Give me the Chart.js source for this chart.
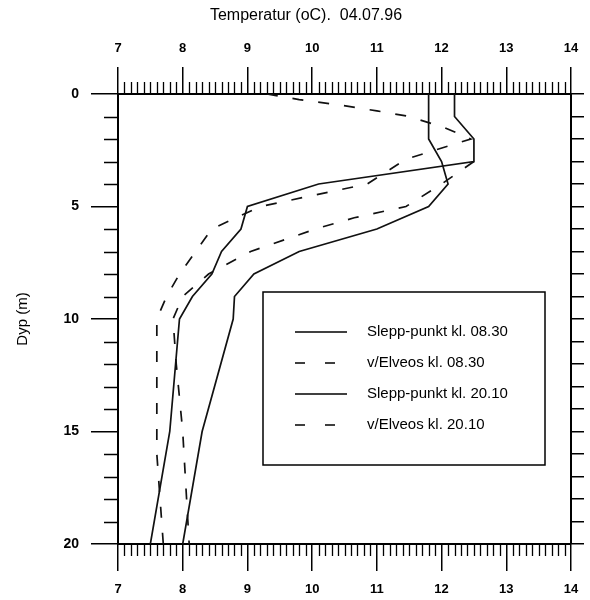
<!DOCTYPE html>
<html><head><meta charset="utf-8">
<script src="https://cdn.jsdelivr.net/npm/chart.js@4.4.1/dist/chart.umd.min.js"></script>
<style>html,body{margin:0;padding:0;background:#fff;}</style>
</head><body>
<canvas id="c" width="590" height="600"></canvas>
<script>
// ---- data (temperature in °C vs depth in m) ----
const seriesLabels = ['Slepp-punkt kl. 08.30', 'v/Elveos kl. 08.30', 'Slepp-punkt kl. 20.10', 'v/Elveos kl. 20.10'];

const sleppDepth0830 = [0, 2, 3, 4, 5, 6, 7, 8, 9, 10, 15, 20];
const sleppTemp0830  = [11.8, 11.8, 12.0, 12.1, 11.8, 11.0, 9.8, 9.1, 8.8, 8.78, 8.3, 8.0];

const elveosDepth0830 = [0, 0.25, 0.5, 0.75, 1, 1.5, 2, 2.9, 4, 5, 6, 7, 8, 9, 10, 16, 20];
const elveosTemp0830  = [9.3, 9.8, 10.45, 11.0, 11.5, 12.05, 12.45, 11.45, 10.85, 9.2, 8.45, 8.2, 7.95, 7.75, 7.6, 7.6, 7.7];

const sleppDepth2010 = [0, 1, 2, 3, 4, 5, 6, 7, 8, 9, 10, 15, 20];
const sleppTemp2010  = [12.2, 12.2, 12.5, 12.5, 10.1, 9.0, 8.9, 8.6, 8.45, 8.15, 7.95, 7.8, 7.5];

const elveosDepth2010 = [3, 4, 5, 5.5, 6, 7, 8, 9, 10, 12, 15, 20];
const elveosTemp2010  = [12.5, 12.0, 11.45, 10.65, 10.05, 9.05, 8.4, 8.0, 7.85, 7.9, 8.0, 8.1];

const tempTicks = [7, 8, 9, 10, 11, 12, 13, 14];
const depthTicks = [0, 5, 10, 15, 20];
const depthAllTicks = [0,1,2,3,4,5,6,7,8,9,10,11,12,13,14,15,16,17,18,19,20];

const titleText = 'Temperatur (oC).  04.07.96';
const yTitleText = 'Dyp (m)';

// ---- build ----
const pts = (d, t) => d.map((v, i) => ({x: t[i], y: v}));
const FONT = "'Liberation Sans', Arial, Helvetica, sans-serif";
Chart.defaults.font.family = FONT;
Chart.defaults.color = '#000';

const solid = [];
const dashed = [11, 15];
const datasets = [
  {label: seriesLabels[0], data: pts(sleppDepth0830, sleppTemp0830), borderDash: solid},
  {label: seriesLabels[1], data: pts(elveosDepth0830, elveosTemp0830), borderDash: dashed},
  {label: seriesLabels[2], data: pts(sleppDepth2010, sleppTemp2010), borderDash: solid},
  {label: seriesLabels[3], data: pts(elveosDepth2010, elveosTemp2010), borderDash: dashed}
].map(ds => Object.assign(ds, {
  showLine: true, borderColor: '#111', borderWidth: 1.7, pointRadius: 0,
  pointHoverRadius: 0, tension: 0, fill: false, xAxisID: 'x', yAxisID: 'y'
}));

const minorTicks = {
  id: 'minorTicks',
  afterDraw(chart) {
    const {ctx, chartArea: a, scales} = chart;
    ctx.save();
    ctx.strokeStyle = '#000';
    ctx.lineWidth = 1.3;
    ctx.beginPath();
    for (let i = 71; i < 140; i++) {
      if (i % 10 === 0) continue;
      const px = Math.round(scales.x.getPixelForValue(i / 10)) + 0.5;
      ctx.moveTo(px, a.bottom); ctx.lineTo(px, a.bottom + 12);
      ctx.moveTo(px, a.top); ctx.lineTo(px, a.top - 12);
    }
    depthAllTicks.forEach(d => {
      if (d % 5 === 0) return;
      const py = Math.round(scales.y.getPixelForValue(d)) + 0.5;
      ctx.moveTo(a.left, py); ctx.lineTo(a.left - 14, py);
    });
    ctx.stroke();
    ctx.restore();
  }
};

const boxLegend = {
  id: 'boxLegend',
  afterDraw(chart) {
    const {ctx, chartArea: a} = chart;
    const L = a.left + 145, T = a.top + 198, R = a.left + 427, B = a.top + 371;
    ctx.save();
    ctx.strokeStyle = '#000';
    ctx.lineWidth = 1.5;
    ctx.fillStyle = '#fff';
    ctx.fillRect(L, T, R - L, B - T);
    ctx.strokeRect(L, T, R - L, B - T);
    ctx.font = '15px ' + FONT;
    ctx.textBaseline = 'middle';
    ctx.textAlign = 'left';
    chart.data.datasets.forEach((ds, i) => {
      const y = T + 40 + i * 31;
      ctx.beginPath();
      ctx.lineWidth = 1.5;
      const isDash = ds.borderDash && ds.borderDash.length;
      ctx.setLineDash(isDash ? [10, 20] : []);
      ctx.moveTo(L + 32, y);
      ctx.lineTo(L + (isDash ? 74 : 84), y);
      ctx.stroke();
      ctx.setLineDash([]);
      ctx.fillStyle = '#000';
      ctx.fillText(ds.label, L + 104, y);
    });
    ctx.restore();
  }
};

const gridCommon = (len) => ({drawOnChartArea: false, drawTicks: true, tickLength: len, color: '#000', lineWidth: 1.5});
const borderCommon = {display: true, color: '#000', width: 2};

new Chart(document.getElementById('c'), {
  type: 'scatter',
  data: {datasets},
  plugins: [minorTicks, boxLegend],
  options: {
    responsive: false,
    animation: false,
    devicePixelRatio: 1,
    layout: {padding: {left: 22, right: 0, top: 0, bottom: 0}},
    plugins: {
      legend: {display: false},
      tooltip: {enabled: false},
      title: {display: true, text: titleText, color: '#000', font: {size: 16, weight: 'normal'}, padding: {top: 6, bottom: 6}}
    },
    scales: {
      x: {
        type: 'linear', position: 'bottom', min: 7, max: 14,
        afterBuildTicks: s => { s.ticks = tempTicks.map(v => ({value: v})); },
        ticks: {font: {size: 13, weight: 'bold'}, color: '#000', padding: 11, autoSkip: false, maxRotation: 0},
        grid: gridCommon(27), border: borderCommon,
        afterFit: s => { s.height = 56; }
      },
      x2: {
        type: 'linear', position: 'top', min: 7, max: 14,
        afterBuildTicks: s => { s.ticks = tempTicks.map(v => ({value: v})); },
        ticks: {font: {size: 13, weight: 'bold'}, color: '#000', padding: 11, autoSkip: false, maxRotation: 0},
        grid: gridCommon(27), border: borderCommon,
        afterFit: s => { s.height = 62.8; }
      },
      y: {
        type: 'linear', position: 'left', reverse: true, min: 0, max: 20,
        afterBuildTicks: s => { s.ticks = depthTicks.map(v => ({value: v})); },
        ticks: {font: {size: 14, weight: 'bold'}, color: '#000', padding: 12, autoSkip: false},
        grid: gridCommon(27), border: borderCommon,
        title: {display: true, text: yTitleText, color: '#000', font: {size: 15, weight: 'normal'}, padding: {top: -8, bottom: 0}},
        afterFit: s => { s.width = 96; }
      },
      y2: {
        type: 'linear', position: 'right', reverse: true, min: 0, max: 20,
        afterBuildTicks: s => { s.ticks = depthAllTicks.map(v => ({value: v})); },
        ticks: {display: false},
        grid: gridCommon(13), border: borderCommon,
        afterFit: s => { s.width = 19; }
      }
    }
  }
});
</script>
</body></html>
